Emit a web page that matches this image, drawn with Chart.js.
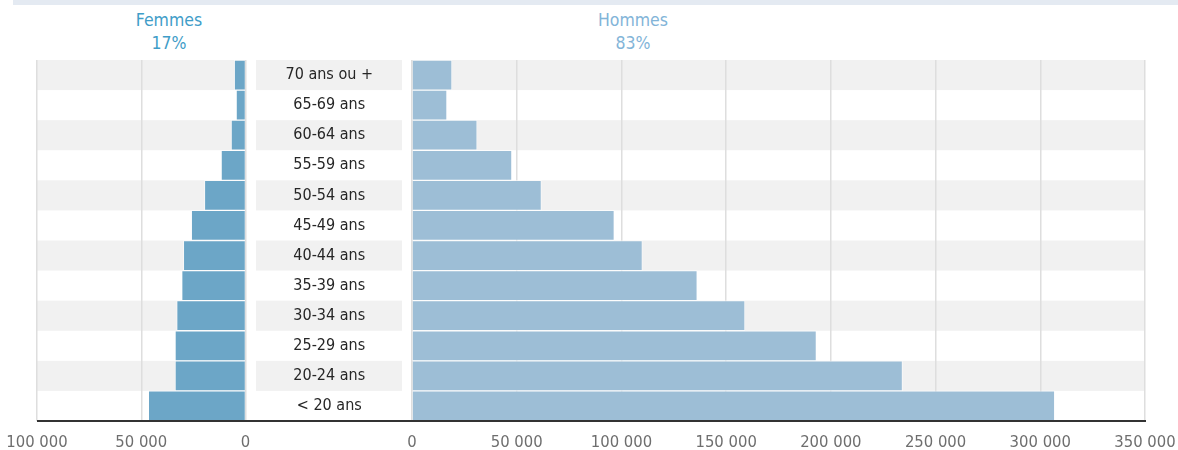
<!DOCTYPE html>
<html lang="fr">
<head>
<meta charset="utf-8">
<script src="https://cdn.jsdelivr.net/npm/chart.js@4.4.1/dist/chart.umd.min.js"></script>
<style>
  html, body { margin: 0; padding: 0; background: #fff; overflow: hidden; }
  body { width: 1178px; height: 450px; position: relative; font-family: "DejaVu Sans Condensed", sans-serif; }
  .topband { position: absolute; left: 13px; top: 0; width: 1165px; height: 5px; background: #e4eaf2; }
  .titre { position: absolute; top: 9px; width: 120px; text-align: center; font-size: 17.5px; line-height: 23px; }
  #tF { left: 109px; color: #3f9dc8; }
  #tH { left: 573px; color: #82b4d8; }
  #femmesWrap { position: absolute; left: 0; top: 0; width: 270px; height: 450px; }
  #hommesWrap { position: absolute; left: 246px; top: 0; width: 954px; height: 450px; }
</style>
</head>
<body>
<div class="topband"></div>
<div class="titre" id="tF">Femmes<br>17%</div>
<div class="titre" id="tH">Hommes<br>83%</div>
<div id="femmesWrap"><canvas id="femmesChart"></canvas></div>
<div id="hommesWrap"><canvas id="hommesChart"></canvas></div>

<script>
// données (haut -> bas)
const ages = ['70 ans ou +', '65-69 ans', '60-64 ans', '55-59 ans', '50-54 ans', '45-49 ans',
              '40-44 ans', '35-39 ans', '30-34 ans', '25-29 ans', '20-24 ans', '< 20 ans'];
const femmes = [5400, 4500, 6900, 11700, 19700, 26000, 29800, 30600, 33000, 33800, 33800, 46600];
const hommes = [19100, 16700, 31100, 47700, 61800, 96600, 110000, 136200, 159000, 193100, 234200, 306900];
const ticksFemmes = [0, 50000, 100000];
const ticksHommes = [0, 50000, 100000, 150000, 200000, 250000, 300000, 350000];

const fontNarrow = '"DejaVu Sans Condensed", sans-serif';
const gridColor = '#dedede';
const bandColor = '#f1f1f1';

function fmt(v) {
  return String(v).replace(/\B(?=(\d{3})+(?!\d))/g, ' ');
}

// bandes grises alternées (sous la grille) + ligne de base
const bandes = {
  id: 'bandes',
  beforeDraw(chart, args, opts) {
    const { ctx, chartArea, scales } = chart;
    const y = scales.y;
    const h = (chartArea.bottom - chartArea.top) / ages.length;
    ctx.save();
    ctx.fillStyle = bandColor;
    ages.forEach((a, i) => {
      if (i % 2) return;
      const yc = y.getPixelForValue(i);
      ctx.fillRect(chartArea.left, yc - h / 2, chartArea.right - chartArea.left, h);
      if (opts.labelCol) {
        ctx.fillRect(chartArea.left - 156, yc - h / 2, 146, h);
      }
    });
    ctx.restore();
  },
  afterDraw(chart, args, opts) {
    const { ctx, chartArea } = chart;
    ctx.save();
    ctx.strokeStyle = '#333';
    ctx.lineWidth = 2;
    ctx.beginPath();
    ctx.moveTo(opts.labelCol ? 0 : chartArea.left, chartArea.bottom);
    ctx.lineTo(chartArea.right + 1, chartArea.bottom);
    ctx.stroke();
    ctx.restore();
  }
};

const xTicks = {
  padding: 12, color: '#6e6e6e', maxRotation: 0,
  font: { family: fontNarrow, size: 16.5 },
  callback: (v) => fmt(v)
};

const femmesChart = new Chart(document.getElementById('femmesChart'), {
  type: 'bar',
  data: {
    labels: ages,
    datasets: [{
      label: 'Femmes',
      data: femmes,
      backgroundColor: '#6ca6c7',
      borderColor: 'rgba(255,255,255,0.55)',
      borderWidth: 1,
      barPercentage: 1,
      categoryPercentage: 1
    }]
  },
  options: {
    indexAxis: 'y',
    responsive: true,
    maintainAspectRatio: false,
    animation: false,
    layout: { padding: { left: 37, right: 24.5, top: 60, bottom: 0 } },
    plugins: { legend: { display: false }, tooltip: { enabled: false }, bandes: { labelCol: false } },
    scales: {
      x: {
        reverse: true, min: 0, max: 100000,
        afterBuildTicks: (s) => { s.ticks = ticksFemmes.map(v => ({ value: v })); },
        afterFit: (s) => { s.height = 29; },
        grid: { color: gridColor, lineWidth: 1.5, drawTicks: false },
        border: { display: false },
        ticks: xTicks
      },
      y: { display: false }
    }
  },
  plugins: [bandes]
});

const hommesChart = new Chart(document.getElementById('hommesChart'), {
  type: 'bar',
  data: {
    labels: ages,
    datasets: [{
      label: 'Hommes',
      data: hommes,
      backgroundColor: '#9dbed6',
      borderColor: 'rgba(255,255,255,0.55)',
      borderWidth: 1,
      barPercentage: 1,
      categoryPercentage: 1
    }]
  },
  options: {
    indexAxis: 'y',
    responsive: true,
    maintainAspectRatio: false,
    animation: false,
    layout: { padding: { left: 0, right: 55, top: 60, bottom: 0 } },
    plugins: { legend: { display: false }, tooltip: { enabled: false }, bandes: { labelCol: true } },
    scales: {
      x: {
        min: 0, max: 350000,
        afterBuildTicks: (s) => { s.ticks = ticksHommes.map(v => ({ value: v })); },
        afterFit: (s) => { s.height = 29; },
        grid: { color: gridColor, lineWidth: 1.5, drawTicks: false },
        border: { display: false },
        ticks: xTicks
      },
      y: {
        afterFit: (s) => { s.width = 166; s.paddingTop = 0; s.paddingBottom = 0; },
        grid: { display: false, drawTicks: false },
        border: { display: false },
        ticks: {
          crossAlign: 'center', padding: 39,
          color: '#262626', font: { family: fontNarrow, size: 16 }
        }
      }
    }
  },
  plugins: [bandes]
});
</script>
</body>
</html>
